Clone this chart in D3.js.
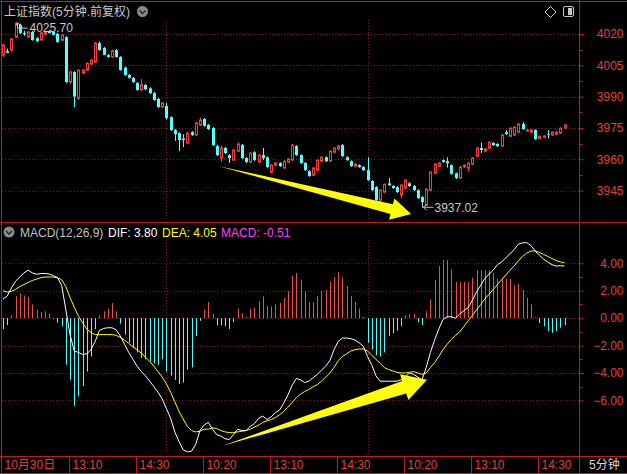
<!DOCTYPE html>
<html><head><meta charset="utf-8">
<script src="https://cdn.jsdelivr.net/npm/d3@7/dist/d3.min.js"></script>
<style>html,body{margin:0;padding:0;background:#000;overflow:hidden}</style>
</head><body>
<svg id="c" width="627" height="474"></svg>
<script>
// ---------- data ----------
const opens = [4009.9,4011.8,4012.3,4018.5,4024.3,4020.5,4018.5,4021.0,4018.0,4017.1,4020.0,4021.4,4021.0,4020.0,4017.0,4018.5,3997.0,4001.8,3989.3,4001.3,4002.7,4005.6,4006.6,4015.7,4013.3,4009.9,4009.0,4012.3,4009.0,4004.0,4000.4,3999.0,3996.5,3993.2,3995.6,3994.0,3991.7,3989.0,3985.0,
3985.5,3980.2,3974.0,3972.5,3970.0,3967.8,3973.0,3971.6,3976.4,3979.3,3976.4,3975.0,3966.3,3960.6,3965.4,3962.0,3959.6,3963.9,3966.8,3960.6,3958.7,3963.4,3958.7,3962.0,3961.0,3953.8,3957.2,3958.2,3955.8,3958.7,3959.6,3966.3,3962.0,3958.2,3954.3,3952.4,3954.8,3959.1,3961.0,3959.1,3963.4,3964.9,3966.8,3961.0,3959.1,3956.7,3957.2,3956.3,
3954.8,3949.6,3946.7,3940.4,3944.3,3948.5,3947.2,3946.7,3942.8,3946.2,3948.5,3947.2,3945.2,3941.9,3938.0,3945.2,3953.3,3956.7,3959.6,3959.1,3957.2,3953.3,3951.0,3956.3,3955.8,3957.7,3961.5,3965.4,3963.9,3965.4,3967.8,3967.3,3966.3,3973.0,3971.0,3971.6,3973.0,3976.9,3973.5,3973.0,3974.0,3970.0,3970.5,3972.0,3971.6,3972.0,3972.5,3975.0];
const highs = [4015.2,4013.0,4018.0,4025.7,4025.0,4021.5,4021.5,4021.5,4018.5,4021.0,4021.5,4022.0,4021.4,4020.5,4020.0,4019.0,4002.5,4002.2,4003.0,4003.2,4006.3,4008.0,4016.2,4016.4,4013.8,4010.4,4012.5,4012.8,4009.4,4004.4,4000.9,3999.4,3997.0,3998.4,3996.0,3994.5,3992.2,3989.5,3987.5,
3987.0,3980.6,3974.5,3973.0,3972.0,3973.0,3973.5,3977.9,3980.0,3979.8,3976.9,3975.4,3966.8,3966.8,3965.9,3962.4,3964.9,3968.2,3967.3,3961.0,3963.5,3963.9,3962.4,3965.4,3961.4,3957.6,3958.7,3958.6,3959.5,3960.5,3967.3,3966.8,3962.4,3958.6,3954.8,3956.2,3960.0,3961.4,3961.4,3964.3,3965.8,3967.0,3967.3,3961.4,3959.5,3958.1,3957.6,3956.7,
3961.0,3950.0,3947.1,3945.6,3948.4,3951.0,3947.6,3947.1,3948.0,3950.4,3949.0,3947.6,3945.6,3942.3,3946.1,3954.3,3958.1,3958.6,3960.0,3961.0,3957.6,3953.7,3956.7,3957.6,3958.6,3961.0,3965.8,3968.0,3965.4,3968.6,3968.2,3967.7,3972.0,3974.0,3975.3,3975.8,3977.3,3977.8,3974.4,3974.4,3974.4,3971.4,3971.5,3974.0,3973.4,3973.4,3975.3,3976.8];
const lows = [4009.0,4010.8,4011.5,4018.0,4020.0,4019.0,4018.0,4016.8,4016.0,4016.8,4019.5,4020.2,4019.2,4015.8,4016.5,3996.5,3996.0,3985.0,3988.4,4000.8,4002.2,4005.2,4006.2,4012.0,4009.8,4008.7,4008.8,4008.7,4002.4,4000.0,3998.6,3996.6,3992.8,3992.8,3993.0,3991.3,3988.0,3984.6,3984.6,
3979.0,3973.5,3968.8,3963.9,3965.8,3967.4,3971.2,3971.2,3976.0,3975.6,3974.0,3966.4,3961.6,3958.7,3962.6,3958.2,3959.2,3963.5,3960.2,3958.3,3958.3,3959.2,3958.3,3959.6,3955.9,3953.4,3956.8,3956.3,3955.4,3958.3,3959.2,3961.6,3957.8,3954.4,3951.6,3952.0,3954.4,3958.7,3958.7,3958.7,3963.0,3964.5,3961.1,3959.2,3956.3,3956.3,3955.9,3954.4,
3949.6,3944.8,3940.0,3939.0,3943.9,3947.2,3945.8,3943.9,3941.4,3945.8,3946.8,3944.8,3941.0,3937.02,3937.6,3944.8,3952.9,3956.3,3958.3,3956.0,3952.6,3950.6,3950.6,3955.9,3954.0,3957.3,3961.1,3963.0,3963.5,3965.0,3966.4,3965.9,3965.9,3971.6,3970.6,3971.2,3972.6,3974.1,3973.1,3972.6,3969.3,3969.6,3970.1,3970.0,3971.2,3971.6,3972.1,3974.6];
const closes = [4014.7,4011.0,4017.6,4025.2,4020.5,4020.0,4021.0,4017.1,4016.6,4020.5,4021.0,4020.5,4019.6,4016.2,4019.5,3997.0,4001.8,3990.0,4002.7,4002.7,4006.0,4007.5,4015.7,4012.3,4010.0,4009.0,4012.0,4009.0,4002.7,4000.4,3999.0,3997.0,3993.2,3995.6,3993.5,3991.7,3988.4,3985.0,3987.0,
3979.8,3974.0,3972.0,3969.2,3969.2,3972.5,3971.6,3977.4,3978.8,3976.0,3974.5,3966.8,3962.0,3965.4,3963.0,3960.6,3964.4,3967.3,3960.6,3958.7,3963.0,3959.6,3962.0,3960.6,3956.3,3957.2,3958.2,3956.7,3959.1,3960.1,3966.8,3962.0,3958.2,3954.8,3952.0,3955.8,3959.6,3961.0,3959.1,3963.9,3965.4,3966.3,3961.5,3959.6,3956.7,3957.7,3956.3,3954.8,
3950.0,3945.2,3940.4,3945.2,3948.0,3947.6,3946.2,3944.3,3947.6,3950.0,3947.2,3945.2,3941.4,3939.5,3945.7,3953.9,3957.7,3958.2,3958.7,3958.2,3953.0,3951.0,3956.3,3957.2,3958.2,3960.6,3965.4,3964.4,3965.0,3968.2,3966.8,3966.3,3971.6,3972.0,3974.9,3975.4,3976.9,3974.5,3974.0,3974.0,3969.7,3971.0,3971.1,3971.5,3973.0,3973.0,3974.9,3976.4];
const difValues = [1.4,1.6,2.2,2.7,3.0,3.3,3.5,3.3,3.2,3.25,3.26,3.22,3.1,2.95,2.4,0.6,-1.2,-2.4,-2.5,-2.65,-2.6,-2.3,-1.7,-0.9,-0.75,-0.7,-0.7,-0.85,-1.3,-1.9,-2.5,-3.0,-3.5,-3.9,-4.2,-4.6,-5.0,-5.4,-5.9,
-6.6,-7.3,-8.3,-9.0,-9.6,-9.75,-9.7,-9.2,-8.2,-7.8,-7.6,-8.1,-8.5,-8.6,-8.8,-8.85,-8.5,-8.1,-8.2,-8.2,-7.9,-7.7,-7.3,-7.15,-7.4,-7.2,-6.9,-6.7,-6.2,-5.6,-4.9,-4.4,-4.5,-4.7,-4.6,-4.35,-4.1,-3.8,-3.5,-3.1,-2.3,-1.7,-1.45,-1.45,-1.5,-1.6,-1.8,-2.05,
-2.8,-3.4,-4.2,-4.6,-4.6,-4.6,-4.6,-4.6,-4.5,-4.3,-4.0,-4.1,-4.3,-4.5,-3.6,-2.5,-1.6,-0.8,-0.1,0.1,0.1,0.0,0.3,0.55,0.75,1.3,1.9,2.4,2.9,3.2,3.5,3.9,4.1,4.4,4.7,5.0,5.4,5.5,5.5,5.3,4.9,4.6,4.3,4.1,3.9,3.8,3.82,3.80];
const deaValues = [2.0,1.9,1.95,2.1,2.3,2.45,2.6,2.75,2.85,2.95,3.0,3.0,3.0,2.95,2.8,2.3,1.5,0.8,0.15,-0.35,-0.8,-1.05,-1.2,-1.2,-1.2,-1.2,-1.2,-1.25,-1.4,-1.6,-1.85,-2.1,-2.3,-2.55,-2.85,-3.15,-3.5,-3.9,-4.3,
-4.8,-5.4,-6.1,-6.8,-7.35,-7.9,-8.2,-8.3,-8.25,-8.1,-8.1,-8.0,-8.05,-8.2,-8.3,-8.35,-8.35,-8.3,-8.25,-8.2,-8.1,-7.95,-7.8,-7.6,-7.5,-7.4,-7.25,-7.05,-6.8,-6.5,-6.15,-5.8,-5.55,-5.35,-5.2,-5.0,-4.85,-4.6,-4.3,-4.0,-3.6,-3.1,-2.8,-2.6,-2.4,-2.3,-2.25,-2.25,
-2.4,-2.7,-3.0,-3.3,-3.6,-3.75,-3.85,-3.95,-4.0,-4.0,-3.95,-3.9,-4.0,-4.1,-4.0,-3.6,-3.25,-2.8,-2.3,-1.9,-1.55,-1.25,-1.0,-0.6,-0.2,0.2,0.6,1.0,1.4,1.75,2.1,2.45,2.8,3.15,3.5,3.8,4.2,4.5,4.75,4.9,4.9,4.8,4.65,4.5,4.35,4.2,4.1,4.05];
const macdValues = [-0.8,-0.5,0.2,1.6,1.8,1.65,1.55,1.0,0.63,0.45,0.5,0.3,-0.05,-0.35,-0.6,-3.4,-4.5,-6.4,-5.7,-4.96,-3.9,-2.8,-0.8,0.2,0.5,0.7,1.1,0.5,-0.4,-1.2,-1.8,-2.1,-2.5,-2.9,-3.0,-3.15,-3.3,-3.4,-3.0,
-3.9,-4.2,-4.5,-4.8,-4.7,-3.75,-3.6,-1.3,-0.2,0.63,1.17,0.3,-0.53,-0.53,-0.6,-0.8,-0.3,0.7,0.35,0.1,0.7,0.77,1.24,1.6,0.9,0.85,1.0,1.1,1.48,1.97,3.1,3.3,2.8,1.97,1.17,1.17,1.6,1.97,2.05,2.63,3.0,3.36,2.95,2.34,1.6,1.17,0.7,0.1,
-1.8,-2.3,-2.7,-2.8,-2.5,-1.3,-1.1,-0.9,-0.6,0.2,0.3,0.3,-0.3,-0.5,0.5,1.37,2.8,3.8,4.24,4.24,3.55,2.63,2.63,2.63,2.63,2.95,3.5,3.5,3.5,3.5,3.3,2.87,2.87,2.87,2.87,2.39,2.5,2.05,1.48,1.0,0.05,-0.35,-0.6,-0.95,-1.07,-0.95,-0.7,-0.51];
const priceTicks = [3945,3960,3975,3990,4005,4020];
const macdTicks = [-6,-4,-2,0,2,4];
const xTickIndex = [0,16,32,48,64,80,96,112,128];
const xTickLabels = ["10月30日","13:10","14:30","10:20","13:10","14:30","10:20","13:10","14:30"];
const dayStartIndex = [39,87];
const highMark = {i:3, v:4025.70};
const lowMark = {i:100, v:3937.02};
const priceArrow = {from:[51.3,3956.8], to:[97.4,3933.8]};
const macdArrow = {from:[52.3,-9.33], to:[101.2,-4.5]};

// ---------- layout ----------
const RED = "#c41a1e", GRID = "#7a1a1a", AXT = "#e0403c";
const UP = "#ff3c3c", DN = "#54ffff";
const FONT = "'Liberation Sans', Arial, 'Noto Sans CJK SC', sans-serif";
const svg = d3.select("#c");
svg.append("rect").attr("width",627).attr("height",474).attr("fill","#000");

const n = closes.length;
const x = d3.scaleLinear().domain([0, n-1]).range([3, 564.5]);
const yP = d3.scaleLinear().domain([3945, 4020]).range([190.6, 34]);
const yM = d3.scaleLinear().domain([-6, 4]).range([400.4, 263.3]);
const px = i => Math.round(x(i)) + 0.5;

// grid
const g = svg.append("g");
g.selectAll(".hp").data(priceTicks).join("line")
  .attr("x1",2).attr("x2",579).attr("y1",d=>Math.round(yP(d))+0.5).attr("y2",d=>Math.round(yP(d))+0.5)
  .attr("stroke",GRID).attr("stroke-dasharray","1,2");
g.selectAll(".hm").data(macdTicks).join("line")
  .attr("x1",2).attr("x2",579).attr("y1",d=>Math.round(yM(d))+0.5).attr("y2",d=>Math.round(yM(d))+0.5)
  .attr("stroke",GRID).attr("stroke-dasharray","1,2");
dayStartIndex.forEach(i=>{
  g.append("line").attr("x1",px(i)).attr("x2",px(i)).attr("y1",20).attr("y2",221).attr("stroke",GRID).attr("stroke-dasharray","1,2");
  g.append("line").attr("x1",px(i)).attr("x2",px(i)).attr("y1",240).attr("y2",455).attr("stroke",GRID).attr("stroke-dasharray","1,2");
});

// candles
const cg = svg.append("g");
d3.range(n).forEach(i=>{
  const o=opens[i], c=closes[i], h=highs[i], l=lows[i];
  const up = c >= o;
  const col = up ? UP : DN;
  const top = yP(Math.max(o,c)), bot = yP(Math.min(o,c));
  const cx = px(i);
  cg.append("line").attr("x1",cx).attr("x2",cx).attr("y1",yP(h)).attr("y2",top).attr("stroke",col);
  cg.append("line").attr("x1",cx).attr("x2",cx).attr("y1",bot).attr("y2",yP(l)).attr("stroke",col);
  if (up) {
    cg.append("rect").attr("x",cx-1).attr("y",top).attr("width",2).attr("height",Math.max(bot-top,0.5))
      .attr("fill","#000").attr("stroke",col).attr("stroke-width",1);
  } else {
    cg.append("rect").attr("x",cx-1.5).attr("y",top).attr("width",3).attr("height",Math.max(bot-top,1)).attr("fill",col);
  }
});

// high / low markers
const mk = svg.append("g").attr("stroke","#c8c8c8").attr("fill","none");
{
  const hx = px(highMark.i)+1, hy = yP(highMark.v);
  mk.append("path").attr("d",`M${hx},${hy+1}V${hy+6}H${hx+10}`);
  mk.append("path").attr("d",`M${hx+3},${hy+3}L${hx},${hy+1}L${hx-2},${hy+4}`);
  svg.append("text").attr("x",hx+12).attr("y",hy+10).attr("fill","#c8c8c8").attr("font-family",FONT).attr("font-size",12).text(highMark.v.toFixed(2));
  const lx = px(lowMark.i), ly = yP(lowMark.v);
  mk.append("path").attr("d",`M${lx},${ly-5}V${ly}H${lx+11}`);
  mk.append("path").attr("d",`M${lx+4},${ly-3}L${lx+1},${ly}L${lx+4},${ly+3}`);
  svg.append("text").attr("x",lx+12).attr("y",ly+5).attr("fill","#c8c8c8").attr("font-family",FONT).attr("font-size",12).text(lowMark.v.toFixed(2));
}

// MACD histogram
const hg = svg.append("g");
hg.selectAll("line").data(macdValues).join("line")
  .attr("x1",(d,i)=>px(i)).attr("x2",(d,i)=>px(i))
  .attr("y1",yM(0)).attr("y2",d=>yM(d))
  .attr("stroke",d=>d>=0?"#e84e4e":"#54fcfc").attr("stroke-width",1);

// DIF / DEA lines
const line = d3.line().x((d,i)=>x(i)).y(d=>yM(d)).curve(d3.curveLinear);
svg.append("path").attr("d",line(deaValues)).attr("fill","none").attr("stroke","#ffff00").attr("stroke-width",1);
svg.append("path").attr("d",line(difValues)).attr("fill","none").attr("stroke","#ffffff").attr("stroke-width",1);

// arrows
function arrow(a, shaftHalf, headHalf, headLen){
  const S=[x(a.from[0]), a.scale(a.from[1])], T=[x(a.to[0]), a.scale(a.to[1])];
  const dx=T[0]-S[0], dy=T[1]-S[1], L=Math.hypot(dx,dy);
  const ux=dx/L, uy=dy/L, nx=-uy, ny=ux;
  const H=[T[0]-ux*headLen, T[1]-uy*headLen];
  const pts=[S,[H[0]+nx*shaftHalf,H[1]+ny*shaftHalf],[H[0]+nx*headHalf,H[1]+ny*headHalf],T,
    [H[0]-nx*headHalf,H[1]-ny*headHalf],[H[0]-nx*shaftHalf,H[1]-ny*shaftHalf]];
  svg.append("polygon").attr("points",pts.map(p=>p.join(",")).join(" ")).attr("fill","#ffff00");
}
arrow({...priceArrow, scale:yP}, 5, 11, 20);
arrow({...macdArrow, scale:yM}, 6.5, 13.5, 24);

// frame
const fr = svg.append("g").attr("stroke",RED).attr("stroke-width",1);
fr.append("line").attr("x1",0).attr("x2",627).attr("y1",1.5).attr("y2",1.5);
fr.append("line").attr("x1",0).attr("x2",627).attr("y1",222.5).attr("y2",222.5);
fr.append("line").attr("x1",0).attr("x2",627).attr("y1",456.5).attr("y2",456.5);
fr.append("line").attr("x1",0).attr("x2",627).attr("y1",473.5).attr("y2",473.5);
fr.append("line").attr("x1",1.5).attr("x2",1.5).attr("y1",0).attr("y2",474);
fr.append("line").attr("x1",579.5).attr("x2",579.5).attr("y1",0).attr("y2",474);

// right axes
function rightAxis(scale, ticks, fmt, step){
  const ag = svg.append("g").attr("transform","translate(579.5,0)")
    .call(d3.axisRight(scale).tickValues(ticks).tickSize(4).tickFormat(fmt));
  ag.select(".domain").remove();
  ag.selectAll("line").attr("stroke",RED);
  ag.selectAll("text").attr("x",44).attr("text-anchor","end").attr("fill",AXT)
    .attr("font-family",FONT).attr("font-size",12);
  const minor = ticks.slice(0,-1).map(t=>t+step/2);
  svg.append("g").selectAll("line").data(minor).join("line")
    .attr("x1",579.5).attr("x2",582.5).attr("y1",d=>Math.round(scale(d))+0.5).attr("y2",d=>Math.round(scale(d))+0.5)
    .attr("stroke",RED);
}
rightAxis(yP, priceTicks, d3.format("d"), 15);
rightAxis(yM, macdTicks, d3.format(".2f"), 2);

// bottom axis
const bx = svg.append("g");
xTickIndex.forEach((ti,k)=>{
  const sx = k===0 ? 1.5 : Math.round(x(ti)-1.5)+0.5;
  bx.append("line").attr("x1",sx).attr("x2",sx).attr("y1",456).attr("y2",474).attr("stroke",RED);
  bx.append("text").attr("x",sx+3).attr("y",469).attr("fill",AXT).attr("font-family",FONT).attr("font-size",12).text(xTickLabels[k]);
});
svg.append("text").attr("x",589).attr("y",469).attr("fill","#d8d8d8").attr("font-family",FONT).attr("font-size",12).text("5分钟");

// headers
svg.append("text").attr("x",4).attr("y",16).attr("fill","#c8c8c8").attr("font-family",FONT).attr("font-size",12).text("上证指数(5分钟.前复权)");
function chevronIcon(cx, cy){
  svg.append("circle").attr("cx",cx).attr("cy",cy).attr("r",5.5).attr("fill","#8a8a8a");
  svg.append("path").attr("d",`M${cx-3},${cy-1}L${cx},${cy+2}L${cx+3},${cy-1}`).attr("stroke","#222").attr("stroke-width",1.3).attr("fill","none");
}
chevronIcon(142.5, 11.5);
chevronIcon(9, 232);
svg.append("path").attr("d","M550.5,6.5L556,12L550.5,17.5L545,12Z").attr("fill","none").attr("stroke","#c8c8c8");
svg.append("rect").attr("x",563.5).attr("y",6.5).attr("width",10).attr("height",10).attr("rx",1.5).attr("fill","none").attr("stroke","#c8c8c8");
svg.append("rect").attr("x",568).attr("y",8).attr("width",4).attr("height",7).attr("fill","#c8c8c8");

const mt = svg.append("text").attr("y",237).attr("font-family",FONT).attr("font-size",12);
mt.append("tspan").attr("x",20).attr("fill","#c0c0c0").text("MACD(12,26,9)");
mt.append("tspan").attr("x",108).attr("fill","#ffffff").text("DIF: " + difValues[n-1].toFixed(2));
mt.append("tspan").attr("x",162).attr("fill","#ffff00").text("DEA: " + deaValues[n-1].toFixed(2));
mt.append("tspan").attr("x",221).attr("fill","#ff40ff").text("MACD: " + macdValues[n-1].toFixed(2));
</script>
</body></html>
